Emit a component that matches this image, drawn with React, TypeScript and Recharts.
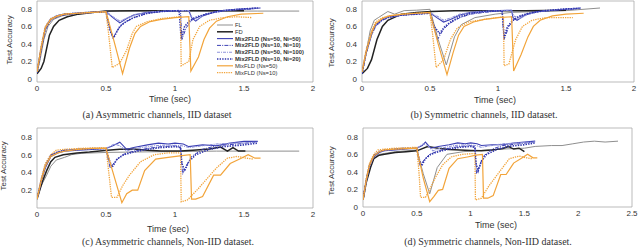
import React from 'react';
import { LineChart, Line, XAxis, YAxis, ReferenceArea } from 'recharts';

type Pt = [number, number];

// ---------- Panel (a): Asymmetric channels, IID ----------
const aFL: Pt[] = [[0,0.07],[0.02,0.2],[0.05,0.45],[0.08,0.6],[0.12,0.68],[0.18,0.72],[0.25,0.74],[0.35,0.76],[0.45,0.77],[0.6,0.775],[0.8,0.775],[1.0,0.775],[1.3,0.775],[1.6,0.775],[1.9,0.775]];
const aFD: Pt[] = [[0,0.06],[0.03,0.12],[0.05,0.2],[0.07,0.35],[0.09,0.5],[0.12,0.6],[0.16,0.67],[0.22,0.71],[0.3,0.74],[0.4,0.76],[0.5,0.775],[0.7,0.78],[1.0,0.78],[1.3,0.78],[1.5,0.78]];
const aM1: Pt[] = [[0,0.08],[0.03,0.35],[0.06,0.58],[0.1,0.68],[0.15,0.72],[0.2,0.74],[0.3,0.75],[0.4,0.76],[0.5,0.77],[0.55,0.7],[0.6,0.64],[0.65,0.69],[0.7,0.73],[0.8,0.76],[0.9,0.77],[1.0,0.78],[1.1,0.78],[1.12,0.7],[1.15,0.66],[1.2,0.72],[1.3,0.77],[1.4,0.79],[1.5,0.8],[1.62,0.81]];
const aM2: Pt[] = [[0,0.07],[0.03,0.33],[0.06,0.56],[0.1,0.67],[0.15,0.71],[0.2,0.73],[0.3,0.75],[0.4,0.76],[0.5,0.77],[0.52,0.62],[0.55,0.46],[0.58,0.55],[0.62,0.63],[0.7,0.7],[0.8,0.75],[0.9,0.77],[1.0,0.78],[1.04,0.78],[1.05,0.45],[1.08,0.58],[1.12,0.67],[1.2,0.73],[1.3,0.77],[1.45,0.79],[1.58,0.8]];
const aM3: Pt[] = [[0,0.08],[0.03,0.36],[0.06,0.6],[0.1,0.69],[0.15,0.73],[0.25,0.75],[0.35,0.76],[0.5,0.77],[0.55,0.71],[0.6,0.66],[0.66,0.7],[0.72,0.74],[0.85,0.77],[1.0,0.78],[1.1,0.78],[1.12,0.71],[1.16,0.68],[1.22,0.74],[1.35,0.78],[1.5,0.8],[1.6,0.81]];
const aM4: Pt[] = [[0,0.07],[0.03,0.34],[0.06,0.57],[0.1,0.68],[0.15,0.72],[0.2,0.74],[0.3,0.75],[0.4,0.76],[0.5,0.77],[0.53,0.55],[0.555,0.47],[0.6,0.6],[0.65,0.66],[0.7,0.7],[0.8,0.75],[0.9,0.77],[1.03,0.78],[1.045,0.46],[1.07,0.6],[1.11,0.67],[1.16,0.71],[1.25,0.75],[1.35,0.78],[1.5,0.8],[1.6,0.81]];
const aO50: Pt[] = [[0,0.08],[0.03,0.35],[0.06,0.58],[0.1,0.68],[0.15,0.72],[0.2,0.74],[0.3,0.75],[0.4,0.76],[0.5,0.77],[0.56,0.42],[0.62,0.06],[0.67,0.35],[0.71,0.52],[0.75,0.6],[0.82,0.655],[0.9,0.68],[1.0,0.7],[1.1,0.71],[1.115,0.09],[1.17,0.25],[1.21,0.45],[1.25,0.58],[1.3,0.66],[1.38,0.71],[1.48,0.74],[1.64,0.75]];
const aO10: Pt[] = [[0,0.08],[0.03,0.38],[0.06,0.6],[0.1,0.69],[0.15,0.72],[0.2,0.74],[0.3,0.75],[0.4,0.76],[0.5,0.76],[0.52,0.5],[0.545,0.13],[0.6,0.18],[0.65,0.33],[0.69,0.52],[0.72,0.6],[0.8,0.655],[0.9,0.69],[1.04,0.71],[1.045,0.15],[1.1,0.2],[1.13,0.45],[1.18,0.6],[1.25,0.67],[1.35,0.7],[1.45,0.71],[1.56,0.7]];

// ---------- Panel (b): Symmetric channels, IID ----------
const bFL: Pt[] = [[0,0.07],[0.03,0.3],[0.06,0.55],[0.09,0.67],[0.12,0.7],[0.19,0.77],[0.24,0.74],[0.31,0.78],[0.4,0.785],[0.5,0.795],[0.56,0.45],[0.62,0.16],[0.68,0.48],[0.73,0.62],[0.83,0.7],[0.98,0.74],[1.1,0.76],[1.3,0.77],[1.5,0.78],[1.75,0.81]];
const bFD: Pt[] = [[0,0.06],[0.04,0.12],[0.07,0.22],[0.11,0.45],[0.15,0.6],[0.19,0.67],[0.29,0.74],[0.4,0.76],[0.51,0.77],[0.68,0.78],[0.9,0.78],[1.2,0.78],[1.5,0.785]];
const bM1: Pt[] = [[0,0.07],[0.03,0.3],[0.07,0.52],[0.1,0.62],[0.15,0.68],[0.2,0.71],[0.3,0.73],[0.4,0.745],[0.5,0.755],[0.55,0.7],[0.6,0.65],[0.65,0.68],[0.72,0.73],[0.8,0.76],[0.9,0.77],[1.0,0.78],[1.1,0.785],[1.11,0.7],[1.14,0.67],[1.2,0.73],[1.3,0.77],[1.45,0.79],[1.61,0.81]];
const bM2: Pt[] = [[0,0.06],[0.03,0.28],[0.07,0.5],[0.1,0.6],[0.15,0.67],[0.2,0.7],[0.3,0.73],[0.4,0.74],[0.5,0.75],[0.53,0.58],[0.555,0.45],[0.6,0.57],[0.65,0.64],[0.72,0.7],[0.8,0.74],[0.9,0.76],[1.03,0.78],[1.045,0.45],[1.08,0.6],[1.12,0.68],[1.2,0.74],[1.3,0.77],[1.45,0.79],[1.58,0.8]];
const bM3: Pt[] = [[0,0.07],[0.04,0.38],[0.08,0.56],[0.12,0.65],[0.18,0.7],[0.25,0.72],[0.35,0.74],[0.5,0.755],[0.56,0.71],[0.6,0.67],[0.66,0.7],[0.72,0.74],[0.85,0.77],[1.0,0.78],[1.1,0.785],[1.115,0.72],[1.16,0.69],[1.22,0.74],[1.35,0.78],[1.5,0.8],[1.6,0.81]];
const bM4: Pt[] = [[0,0.06],[0.03,0.3],[0.07,0.51],[0.1,0.61],[0.15,0.68],[0.2,0.71],[0.3,0.73],[0.4,0.74],[0.5,0.75],[0.53,0.6],[0.57,0.52],[0.61,0.6],[0.66,0.66],[0.72,0.71],[0.8,0.75],[0.9,0.77],[1.03,0.78],[1.045,0.47],[1.07,0.6],[1.11,0.67],[1.16,0.72],[1.25,0.76],[1.35,0.78],[1.5,0.8],[1.6,0.805]];
const bO50: Pt[] = [[0,0.08],[0.03,0.3],[0.07,0.52],[0.1,0.63],[0.15,0.69],[0.2,0.72],[0.3,0.74],[0.4,0.75],[0.5,0.76],[0.56,0.4],[0.625,0.05],[0.67,0.3],[0.71,0.5],[0.75,0.6],[0.82,0.65],[0.9,0.68],[1.0,0.7],[1.1,0.71],[1.115,0.09],[1.17,0.28],[1.22,0.48],[1.26,0.6],[1.31,0.67],[1.4,0.72],[1.5,0.74],[1.63,0.75]];
const bO10: Pt[] = [[0,0.08],[0.03,0.33],[0.07,0.55],[0.1,0.65],[0.15,0.7],[0.2,0.72],[0.3,0.74],[0.4,0.75],[0.5,0.755],[0.52,0.5],[0.545,0.13],[0.6,0.22],[0.65,0.45],[0.7,0.58],[0.78,0.65],[0.9,0.68],[1.04,0.71],[1.045,0.15],[1.08,0.17],[1.13,0.45],[1.18,0.6],[1.25,0.67],[1.35,0.7],[1.55,0.7]];

// ---------- Panel (c): Asymmetric channels, Non-IID ----------
const cFL: Pt[] = [[0,0.13],[0.03,0.25],[0.07,0.37],[0.1,0.47],[0.14,0.54],[0.2,0.57],[0.25,0.6],[0.32,0.615],[0.5,0.625],[0.7,0.63],[1.0,0.635],[1.3,0.64],[1.6,0.64],[1.9,0.64]];
const cFD: Pt[] = [[0,0.1],[0.04,0.3],[0.07,0.42],[0.1,0.52],[0.13,0.57],[0.19,0.6],[0.29,0.62],[0.38,0.63],[0.51,0.65],[0.6,0.66],[0.7,0.665],[0.8,0.65],[0.9,0.64],[1.04,0.64],[1.13,0.65],[1.25,0.665],[1.33,0.685],[1.38,0.64],[1.42,0.68],[1.46,0.64],[1.51,0.64]];
const cM1: Pt[] = [[0,0.1],[0.03,0.3],[0.06,0.45],[0.1,0.58],[0.15,0.62],[0.2,0.64],[0.3,0.65],[0.4,0.66],[0.5,0.67],[0.55,0.7],[0.6,0.74],[0.65,0.66],[0.7,0.68],[0.8,0.71],[0.88,0.73],[0.95,0.72],[1.0,0.73],[1.06,0.72],[1.1,0.69],[1.2,0.71],[1.3,0.7],[1.4,0.73],[1.5,0.75],[1.6,0.75]];
const cM2: Pt[] = [[0,0.1],[0.03,0.32],[0.06,0.48],[0.1,0.6],[0.15,0.63],[0.2,0.65],[0.3,0.66],[0.4,0.665],[0.5,0.67],[0.53,0.45],[0.57,0.53],[0.62,0.6],[0.7,0.64],[0.8,0.67],[0.9,0.69],[1.0,0.7],[1.04,0.69],[1.055,0.38],[1.08,0.47],[1.12,0.58],[1.2,0.66],[1.3,0.7],[1.45,0.72],[1.58,0.74]];
const cM3: Pt[] = [[0,0.1],[0.05,0.42],[0.1,0.59],[0.15,0.63],[0.25,0.65],[0.4,0.665],[0.5,0.67],[0.56,0.72],[0.6,0.7],[0.65,0.64],[0.72,0.67],[0.85,0.7],[0.95,0.71],[1.05,0.7],[1.1,0.68],[1.2,0.7],[1.3,0.72],[1.45,0.73],[1.6,0.74]];
const cM4: Pt[] = [[0,0.1],[0.03,0.3],[0.06,0.47],[0.1,0.59],[0.15,0.63],[0.2,0.65],[0.3,0.66],[0.4,0.67],[0.5,0.67],[0.52,0.55],[0.545,0.46],[0.58,0.55],[0.63,0.6],[0.7,0.63],[0.8,0.66],[0.9,0.68],[1.0,0.69],[1.04,0.68],[1.05,0.5],[1.07,0.42],[1.1,0.52],[1.15,0.6],[1.25,0.66],[1.35,0.69],[1.5,0.71],[1.6,0.73]];
const cO50: Pt[] = [[0,0.1],[0.03,0.3],[0.06,0.47],[0.1,0.58],[0.15,0.62],[0.2,0.64],[0.3,0.66],[0.4,0.67],[0.5,0.67],[0.56,0.35],[0.615,0.06],[0.65,0.16],[0.69,0.2],[0.73,0.2],[0.78,0.42],[0.86,0.55],[0.95,0.57],[1.05,0.59],[1.11,0.6],[1.12,0.1],[1.15,0.1],[1.2,0.13],[1.28,0.37],[1.33,0.37],[1.4,0.5],[1.48,0.56],[1.53,0.6],[1.58,0.56],[1.62,0.56]];
const cO10: Pt[] = [[0,0.1],[0.03,0.33],[0.06,0.5],[0.1,0.6],[0.14,0.65],[0.2,0.66],[0.3,0.67],[0.4,0.675],[0.5,0.68],[0.52,0.4],[0.54,0.12],[0.58,0.12],[0.62,0.25],[0.67,0.37],[0.75,0.52],[0.85,0.6],[0.95,0.62],[1.04,0.62],[1.045,0.07],[1.09,0.09],[1.17,0.22],[1.3,0.45],[1.38,0.56],[1.45,0.58],[1.52,0.56],[1.57,0.55]];

// ---------- Panel (d): Symmetric channels, Non-IID ----------
const dFL: Pt[] = [[0,0.08],[0.03,0.3],[0.06,0.45],[0.1,0.55],[0.15,0.6],[0.2,0.61],[0.3,0.63],[0.4,0.64],[0.5,0.65],[0.56,0.38],[0.62,0.15],[0.69,0.45],[0.78,0.6],[0.93,0.63],[1.1,0.645],[1.3,0.66],[1.5,0.67],[1.6,0.69],[1.75,0.7],[1.85,0.7],[1.95,0.72],[2.05,0.74],[2.15,0.75],[2.25,0.74],[2.37,0.75]];
const dFD: Pt[] = [[0,0.08],[0.03,0.28],[0.07,0.45],[0.1,0.55],[0.15,0.59],[0.2,0.6],[0.3,0.62],[0.4,0.63],[0.5,0.64],[0.6,0.69],[0.7,0.67],[0.8,0.655],[0.9,0.65],[1.0,0.645],[1.1,0.64],[1.2,0.65],[1.3,0.665],[1.35,0.69],[1.4,0.66],[1.45,0.67],[1.5,0.63]];
const dM1: Pt[] = [[0,0.08],[0.03,0.3],[0.06,0.46],[0.1,0.57],[0.15,0.62],[0.2,0.64],[0.3,0.65],[0.4,0.66],[0.5,0.67],[0.55,0.7],[0.58,0.74],[0.63,0.67],[0.7,0.69],[0.8,0.71],[0.88,0.73],[0.95,0.72],[1.0,0.73],[1.06,0.72],[1.1,0.7],[1.2,0.71],[1.3,0.71],[1.4,0.73],[1.5,0.74],[1.6,0.75]];
const dM2: Pt[] = [[0,0.09],[0.03,0.32],[0.06,0.48],[0.1,0.59],[0.15,0.63],[0.2,0.65],[0.3,0.66],[0.4,0.665],[0.5,0.67],[0.53,0.47],[0.57,0.54],[0.62,0.6],[0.7,0.64],[0.8,0.67],[0.9,0.69],[1.0,0.7],[1.04,0.69],[1.055,0.38],[1.08,0.46],[1.12,0.58],[1.2,0.66],[1.3,0.7],[1.45,0.72],[1.58,0.74]];
const dM3: Pt[] = [[0,0.09],[0.05,0.42],[0.1,0.58],[0.15,0.63],[0.25,0.65],[0.4,0.665],[0.5,0.67],[0.56,0.72],[0.6,0.7],[0.65,0.64],[0.72,0.67],[0.85,0.7],[0.95,0.71],[1.05,0.7],[1.1,0.68],[1.2,0.7],[1.3,0.72],[1.45,0.73],[1.6,0.74]];
const dM4: Pt[] = [[0,0.08],[0.03,0.3],[0.06,0.47],[0.1,0.58],[0.15,0.63],[0.2,0.65],[0.3,0.66],[0.4,0.67],[0.5,0.67],[0.52,0.55],[0.545,0.47],[0.58,0.55],[0.63,0.6],[0.7,0.63],[0.8,0.66],[0.9,0.68],[1.0,0.69],[1.04,0.68],[1.05,0.5],[1.07,0.41],[1.1,0.52],[1.15,0.6],[1.25,0.66],[1.35,0.69],[1.5,0.71],[1.6,0.73]];
const dO50: Pt[] = [[0,0.08],[0.03,0.3],[0.06,0.47],[0.1,0.58],[0.15,0.63],[0.2,0.65],[0.3,0.66],[0.4,0.665],[0.5,0.67],[0.56,0.33],[0.62,0.06],[0.66,0.12],[0.7,0.19],[0.74,0.2],[0.8,0.44],[0.88,0.55],[0.97,0.57],[1.05,0.59],[1.11,0.6],[1.12,0.1],[1.16,0.1],[1.21,0.13],[1.28,0.37],[1.33,0.37],[1.4,0.5],[1.48,0.56],[1.53,0.6],[1.58,0.56],[1.62,0.56]];
const dO10: Pt[] = [[0,0.08],[0.03,0.32],[0.06,0.5],[0.1,0.6],[0.14,0.65],[0.2,0.66],[0.3,0.67],[0.4,0.675],[0.5,0.68],[0.52,0.4],[0.535,0.11],[0.58,0.11],[0.62,0.2],[0.67,0.33],[0.74,0.48],[0.82,0.57],[0.92,0.6],[1.04,0.61],[1.045,0.08],[1.1,0.1],[1.17,0.24],[1.28,0.42],[1.36,0.55],[1.45,0.58],[1.52,0.56],[1.57,0.55]];

// ---------- labels ----------
const seriesNames = ['FL', 'FD', 'Mix2FLD (Ns=50, Ni=50)', 'Mix2FLD (Ns=10, Ni=10)', 'Mix2FLD (Ns=50, Ni=100)', 'Mix2FLD (Ns=10, Ni=20)', 'MixFLD (Ns=50)', 'MixFLD (Ns=10)'];
const xTicks2 = [0, 0.5, 1, 1.5, 2];
const xTicks25 = [0, 0.5, 1, 1.5, 2, 2.5];
const yTicksFull = [0, 0.2, 0.4, 0.6, 0.8];
const yTicksNo0 = [0.2, 0.4, 0.6, 0.8];
const captions = [
  '(a) Asymmetric channels, IID dataset',
  '(b) Symmetric channels, IID dataset.',
  '(c) Asymmetric channels, Non-IID dataset.',
  '(d) Symmetric channels, Non-IID dataset.',
];
const xLabel = 'Time (sec)';
const yLabel = 'Test Accuracy';

// ---------- styles ----------
type St = { stroke: string; w: number; dash?: string; bold?: boolean };
const STYLES: St[] = [
  { stroke: '#8f8f8f', w: 1 },
  { stroke: '#222222', w: 1.5 },
  { stroke: '#3c40b4', w: 1.1, bold: true },
  { stroke: '#3c40b4', w: 1, dash: '4 1.2 1 1.2', bold: true },
  { stroke: '#8e92da', w: 1.1, dash: '3 1 1 1', bold: true },
  { stroke: '#2f34ad', w: 1.6, dash: '1.4 1.2', bold: true },
  { stroke: '#f2a43a', w: 1.2 },
  { stroke: '#f2a43a', w: 1.3, dash: '1.3 1' },
];

const toObj = (p: Pt[]) => p.map(([x, y]) => ({ x, y }));

type PanelProps = {
  left: number; top: number; series: Pt[][]; xMax: number; xTicks: number[];
  yDomain: [number, number]; yTicks: number[];
  margin: { top: number; right: number; bottom: number; left: number }; yW: number;
};

const tickStyle = { fontSize: 8, fill: '#333', fontFamily: 'Liberation Sans, Arial, sans-serif' };

function Panel(p: PanelProps) {
  return (
    <div style={{ position: 'absolute', left: p.left, top: p.top }}>
      <LineChart width={320} height={125} margin={p.margin}>
        <XAxis dataKey="x" type="number" domain={[0, p.xMax]} ticks={p.xTicks} tickSize={0} tickMargin={3}
          axisLine={false} tick={tickStyle} height={12} allowDataOverflow interval={0} />
        <YAxis dataKey="y" type="number" domain={p.yDomain} ticks={p.yTicks} width={p.yW} tickSize={0} tickMargin={5}
          axisLine={false} tick={tickStyle} allowDataOverflow interval={0} />
        <ReferenceArea x1={0} x2={p.xMax} y1={p.yDomain[0]} y2={p.yDomain[1]} fill="none" fillOpacity={0}
          stroke="#a9a9a9" strokeWidth={0.8} ifOverflow="visible" />
        {p.series.map((d, i) => (
          <Line key={i} data={toObj(d)} dataKey="y" type="linear" dot={false} activeDot={false}
            stroke={STYLES[i].stroke} strokeWidth={STYLES[i].w} strokeDasharray={STYLES[i].dash}
            isAnimationActive={false} />
        ))}
      </LineChart>
    </div>
  );
}

function Text({ x, y, children, size, family, rotate }: { x: number; y: number; children: React.ReactNode; size: number; family: string; rotate?: boolean }) {
  return (
    <div style={{
      position: 'absolute', left: x - 150, top: y - size * 0.6, width: 300, textAlign: 'center',
      fontSize: size, fontFamily: family, lineHeight: `${size * 1.2}px`, color: '#333', whiteSpace: 'nowrap',
      transform: rotate ? 'rotate(-90deg)' : undefined, transformOrigin: 'center center',
    }}>{children}</div>
  );
}

function Legend() {
  const y0 = 25, dy = 6.8;
  return (
    <svg style={{ position: 'absolute', left: 0, top: 0 }} width={640} height={125}>
      {seriesNames.map((n, i) => {
        const s = STYLES[i];
        const y = y0 + i * dy;
        return (
          <g key={n}>
            <line x1={217} x2={233} y1={y} y2={y} stroke={s.stroke} strokeWidth={s.w} strokeDasharray={s.dash} />
            <text x={235} y={y + 2} fontSize={5.8} fontWeight={s.bold ? 'bold' : 'normal'}
              fontFamily="Liberation Sans, Arial, sans-serif" fill="#333">{n}</text>
          </g>
        );
      })}
    </svg>
  );
}

const SANS = 'Liberation Sans, Arial, sans-serif';
const SERIF = 'Liberation Serif, Times New Roman, serif';

export default function App() {
  return (
    <div style={{ position: 'absolute', left: 0, top: 0, width: 640, height: 250, background: '#fff', overflow: 'hidden' }}>
      <Panel left={0} top={0} series={[aFL, aFD, aM1, aM2, aM3, aM4, aO50, aO10]} xMax={2} xTicks={xTicks2}
        yDomain={[-0.035, 0.89]} yTicks={yTicksFull} margin={{ top: 1, right: 7, bottom: 31, left: 0 }} yW={37} />
      <Panel left={320} top={0} series={[bFL, bFD, bM1, bM2, bM3, bM4, bO50, bO10]} xMax={2} xTicks={xTicks2}
        yDomain={[-0.035, 0.89]} yTicks={yTicksFull} margin={{ top: 1, right: 6, bottom: 31, left: 0 }} yW={42} />
      <Panel left={0} top={125} series={[cFL, cFD, cM1, cM2, cM3, cM4, cO50, cO10]} xMax={2} xTicks={xTicks2}
        yDomain={[0, 0.9]} yTicks={yTicksNo0} margin={{ top: 3, right: 7, bottom: 30, left: 0 }} yW={37} />
      <Panel left={320} top={125} series={[dFL, dFD, dM1, dM2, dM3, dM4, dO50, dO10]} xMax={2.5} xTicks={xTicks25}
        yDomain={[0, 0.9]} yTicks={yTicksFull} margin={{ top: 3, right: 8, bottom: 31, left: 0 }} yW={43} />
      <Legend />
      <Text x={10} y={40} size={8} family={SANS} rotate>{yLabel}</Text>
      <Text x={332} y={43} size={8} family={SANS} rotate>{yLabel}</Text>
      <Text x={4} y={166} size={8} family={SANS} rotate>{yLabel}</Text>
      <Text x={332} y={171} size={8} family={SANS} rotate>{yLabel}</Text>
      <Text x={170} y={99} size={9} family={SANS}>{xLabel}</Text>
      <Text x={495} y={100} size={9} family={SANS}>{xLabel}</Text>
      <Text x={168} y={229} size={9} family={SANS}>{xLabel}</Text>
      <Text x={496} y={225} size={9} family={SANS}>{xLabel}</Text>
      <Text x={157} y={115} size={10} family={SERIF}>{captions[0]}</Text>
      <Text x={484} y={115} size={10} family={SERIF}>{captions[1]}</Text>
      <Text x={168} y={242} size={10} family={SERIF}>{captions[2]}</Text>
      <Text x={488} y={242} size={10} family={SERIF}>{captions[3]}</Text>
    </div>
  );
}
